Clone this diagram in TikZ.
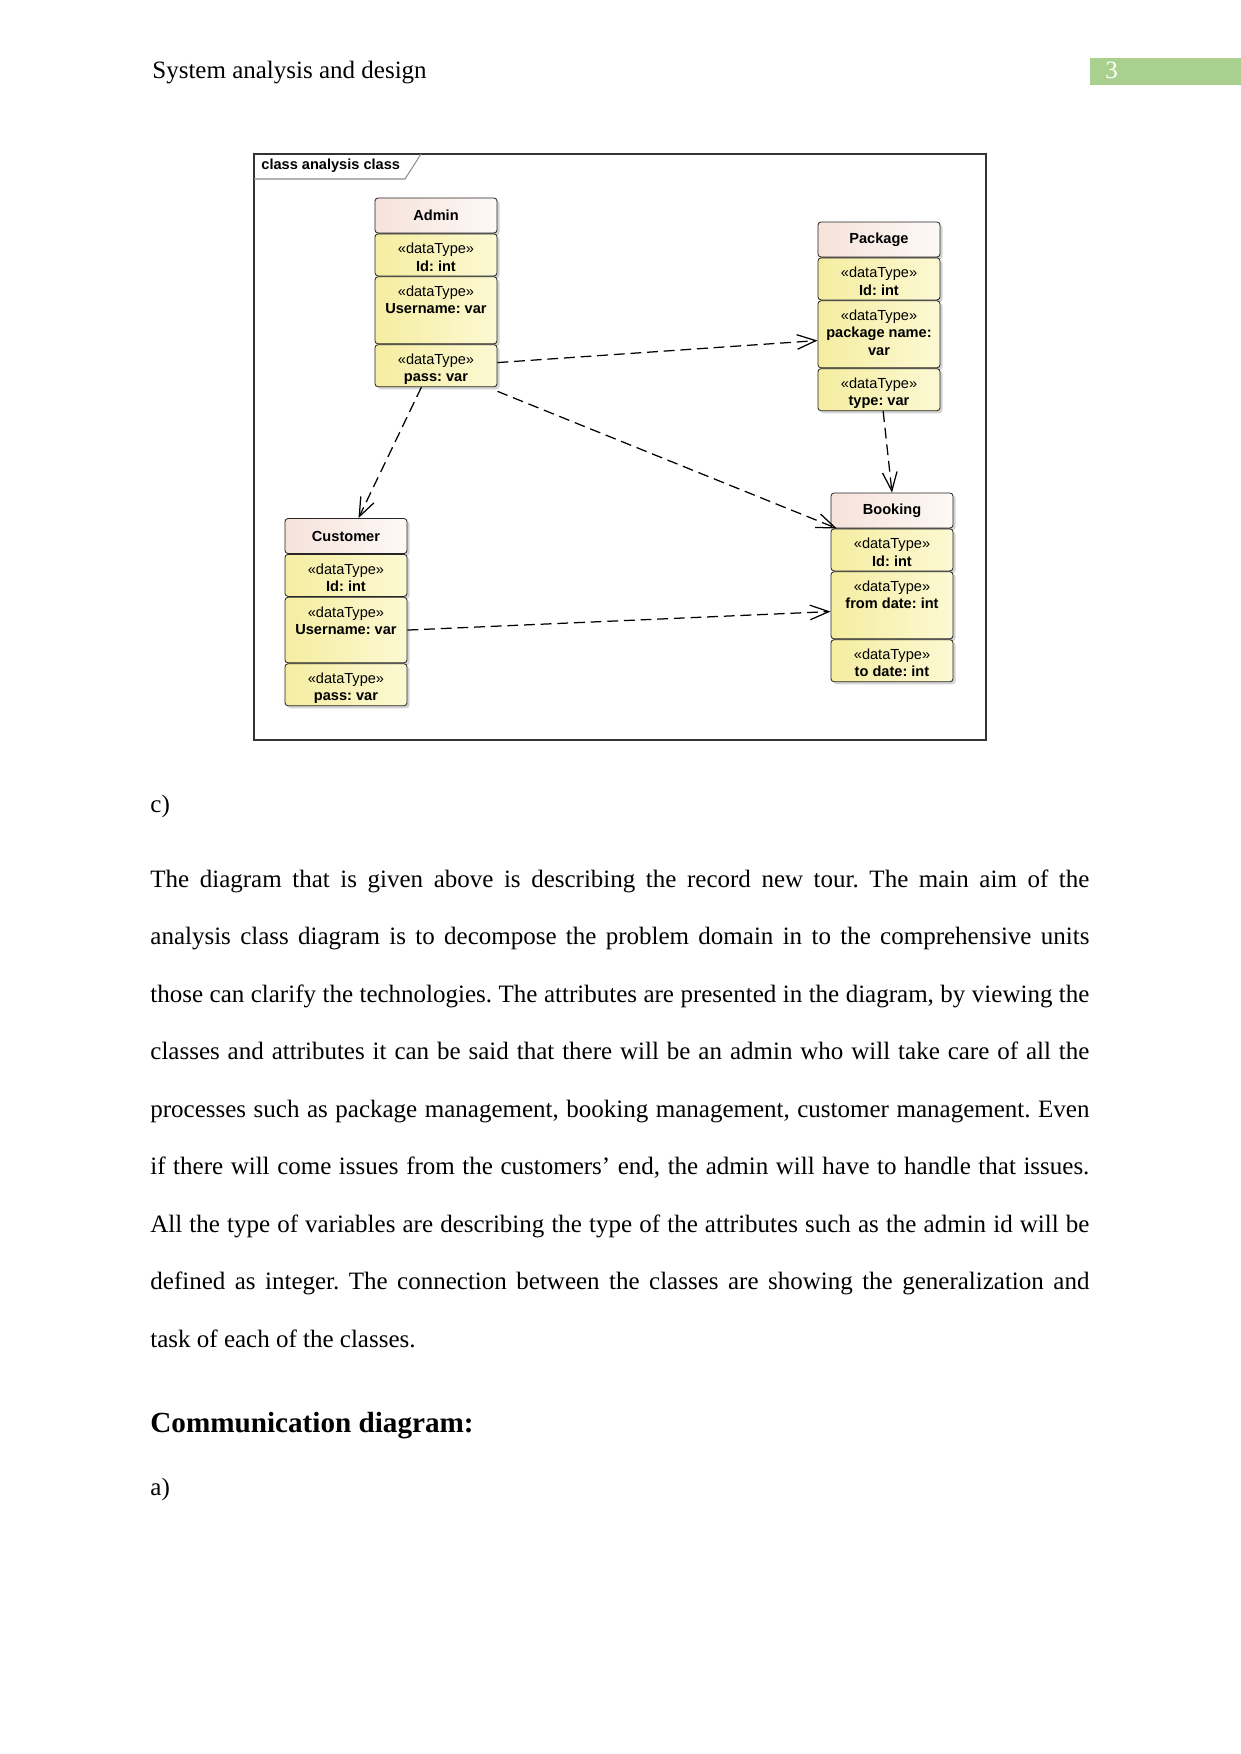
\documentclass[tikz,border=0pt]{standalone}
\usepackage{fontspec}
\setmainfont{Liberation Serif}
\setsansfont{Liberation Sans}
\usetikzlibrary{positioning,arrows.meta,shadows}
\frenchspacing

\definecolor{titleleft}{RGB}{246,226,218}
\definecolor{titleright}{RGB}{253,249,246}
\definecolor{attrleft}{RGB}{245,237,160}
\definecolor{attrright}{RGB}{252,249,212}
\definecolor{pagegreen}{RGB}{169,208,142}

% one attribute compartment: height, name
\newcommand{\dtype}[2]{\parbox[c][#1][t]{58pt}{\centering\vspace*{4.5pt}«dataType»\\\textbf{#2}}}

\tikzset{
  umltitle/.style={draw=black!85, rounded corners=1.5pt, left color=titleleft, right color=titleright,
    minimum width=58.6pt, minimum height=16.8pt, inner sep=0pt,
    font=\sffamily\bfseries\fontsize{7}{8.3}\selectfont,
    drop shadow={shadow xshift=1.2pt, shadow yshift=-1.2pt, opacity=0.35}},
  umlattr/.style={draw=black!85, rounded corners=1.5pt, left color=attrleft, right color=attrright,
    minimum width=58.6pt, inner sep=0pt, font=\sffamily\fontsize{7}{8.3}\selectfont,
    drop shadow={shadow xshift=1.2pt, shadow yshift=-1.2pt, opacity=0.35}},
  depend/.style={->, line width=0.6pt, dash pattern=on 5.2pt off 2.8pt},
  bodytext/.style={anchor=mid west, inner sep=0pt, font=\fontsize{12}{14}\selectfont}
}

\begin{document}
\begin{tikzpicture}[x=0.48pt, y=-0.48pt, >={Straight Barb[length=9pt,width=7pt]}]
  \useasboundingbox (0,0) rectangle (1241,1754);
  % Page header
  \node[bodytext] (header) at (152,74) {System analysis and design};
  \fill[pagegreen] (1090,58) rectangle (1241,85);
  \node[bodytext, text=white] (pagenum) at (1105,74) {3};
  % Diagram frame
  \draw[black!80, line width=0.5pt] (254,154) rectangle (986,740);
  \draw[black!45, line width=0.5pt] (254,179) -- (405,179) -- (421,154);
  \node[anchor=west, inner sep=0pt, font=\sffamily\bfseries\fontsize{7}{8.3}\selectfont] (framelabel) at (261,166) {class analysis class};
  % Admin
  \node[umltitle] (admin) at (436,215.5) {Admin};
  \node[umlattr, below=0pt of admin] (adminId) {\dtype{20.2pt}{Id: int}};
  \node[umlattr, below=0pt of adminId] (adminUser) {\dtype{32.2pt}{Username: var}};
  \node[umlattr, below=0pt of adminUser] (adminPass) {\dtype{20.2pt}{pass: var}};
  % Package
  \node[umltitle] (package) at (879,239.5) {Package};
  \node[umlattr, below=0pt of package] (packageId) {\dtype{20.2pt}{Id: int}};
  \node[umlattr, below=0pt of packageId] (packageName) {\dtype{32.2pt}{package name:\\var}};
  \node[umlattr, below=0pt of packageName] (packageType) {\dtype{20.2pt}{type: var}};
  % Customer
  \node[umltitle] (customer) at (346,536) {Customer};
  \node[umlattr, below=0pt of customer] (customerId) {\dtype{20.2pt}{Id: int}};
  \node[umlattr, below=0pt of customerId] (customerUser) {\dtype{31.5pt}{Username: var}};
  \node[umlattr, below=0pt of customerUser] (customerPass) {\dtype{20.2pt}{pass: var}};
  % Booking
  \node[umltitle] (booking) at (892,510.5) {Booking};
  \node[umlattr, below=0pt of booking] (bookingId) {\dtype{20.2pt}{Id: int}};
  \node[umlattr, below=0pt of bookingId] (bookingFrom) {\dtype{32.2pt}{from date: int}};
  \node[umlattr, below=0pt of bookingFrom] (bookingTo) {\dtype{20.2pt}{to date: int}};
  % Dependencies
  \draw[depend] ([yshift=1.5pt]adminPass.east) -- ([yshift=-3pt]packageName.west);
  \draw[depend] ([yshift=-2pt]adminPass.south east) -- ([xshift=3pt]booking.south west);
  \draw[depend] ([xshift=-7pt]adminPass.south) -- ([xshift=6pt]customer.north);
  \draw[depend] ([xshift=2pt]packageType.south) -- (booking.north);
  \draw[depend] (customerUser.east) -- ([yshift=-3pt]bookingFrom.west);
  % Body text
  \node[bodytext] (partc) at (150,807.5) {c)};
  \foreach \txt [count=\i] in {
    {The diagram that is given above is describing the record new tour. The main aim of the},
    {analysis class diagram is to decompose the problem domain in to the comprehensive units},
    {those can clarify the technologies. The attributes are presented in the diagram, by viewing the},
    {classes and attributes it can be said that there will be an admin who will take care of all the},
    {processes such as package management, booking management, customer management. Even},
    {if there will come issues from the customers’ end, the admin will have to handle that issues.},
    {All the type of variables are describing the type of the attributes such as the admin id will be},
    {defined as integer. The connection between the classes are showing the generalization and}} {
    \node[bodytext] (line\i) at (150,{882.5+(\i-1)*57.5}) {\makebox[450.7pt][s]{\txt}};
  }
  \node[bodytext] (line9) at (150,1342.5) {task of each of the classes.};
  \node[bodytext, font=\bfseries\fontsize{14}{16}\selectfont] (heading) at (150,1428) {Communication diagram:};
  \node[bodytext] (parta) at (150,1490.5) {a)};
\end{tikzpicture}
\end{document}
